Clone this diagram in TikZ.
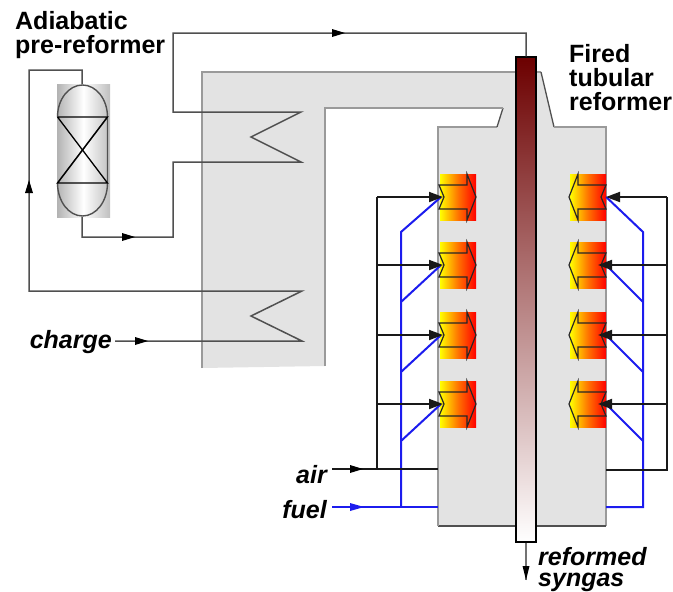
\documentclass[tikz,border=0pt]{standalone}
\usepackage{fontspec}
\setmainfont{Liberation Sans}
\usetikzlibrary{arrows.meta}
\definecolor{furn}{HTML}{E3E3E3}
\definecolor{furnedge}{HTML}{9A9A9A}
\definecolor{pipec}{HTML}{505050}
\definecolor{tubetop}{HTML}{6C0000}
\definecolor{fuelblue}{HTML}{1C1CEE}
\tikzset{
  pipe/.style={draw=pipec,line width=1.5pt,line join=miter},
  airline/.style={draw=black!90,line width=1.8pt},
  fuelline/.style={draw=fuelblue,line width=2pt},
  bigtip/.style={-{Triangle[length=14pt,width=10pt]},line width=1.8pt,draw=black!90},
  burnerbox/.style={minimum width=36pt,minimum height=46pt,inner sep=0pt,left color=yellow,right color=red,middle color=orange!90!red},
  burnerarrow/.style={draw=black!85,line width=1.2pt,line join=miter},
  lbl/.style={font=\fontsize{25}{24}\selectfont\bfseries,inner sep=0pt,anchor=base west},
  ilbl/.style={font=\fontsize{25}{24}\selectfont\bfseries\itshape,inner sep=0pt},
  tubebox/.style={draw=black,line width=1.5pt,minimum width=20pt,minimum height=485pt,inner sep=0pt,top color=tubetop,bottom color=white},
  vesselbox/.style={minimum width=53pt,minimum height=133pt,inner sep=0pt,left color=black!30,right color=black!25,middle color=white},
}
\begin{document}
\begin{tikzpicture}[x=1pt,y=-1pt]
\useasboundingbox (0,0) rectangle (673,592);
% furnace body
\fill[furn] (202,72) -- (541,72) -- (554,127) -- (606,127) -- (606,526) -- (438,526) -- (438,127) -- (497,127) -- (503,108) -- (325,108) -- (325,366) -- (202,368) -- cycle;
\draw[furnedge,line width=1.8pt,line join=miter] (202,368) -- (202,72) -- (541,72);
\draw[pipec,line width=1.3pt] (541,72) -- (554,127);
\draw[furnedge,line width=1.8pt] (554,127) -- (606,127) -- (606,526);
\draw[pipec,line width=1.5pt] (606,526) -- (438,526);
\draw[furnedge,line width=1.8pt] (438,526) -- (438,127) -- (497,127);
\draw[pipec,line width=1.3pt] (497,127) -- (503,108);
\draw[furnedge,line width=1.8pt] (503,108) -- (325,108) -- (325,366);
% pre-reformer vessel
\node[vesselbox] (vessel) at (83.5,150.5) {};
\draw[pipec,line width=1.4pt] (57.5,117) arc[x radius=25,y radius=-32,start angle=180,end angle=0] (107.5,117) -- (107.5,183) arc[x radius=25,y radius=-33,start angle=0,end angle=-180] -- cycle;
\draw[black,line width=1.3pt] (57.5,117) -- (107.5,117) -- (57.5,183) -- (107.5,183) -- (57.5,117);
% named points of the process lines
\coordinate (vtop) at (82,84);
\coordinate (vbot) at (82,217);
\coordinate (c1) at (29,70);
\coordinate (c1a) at (82,70);
\coordinate (c2) at (29,291);
\coordinate (lowA) at (302,291);
\coordinate (lowB) at (251,316);
\coordinate (lowC) at (302,341);
\coordinate (chg) at (115,341);
\coordinate (b1) at (82,237);
\coordinate (b2) at (173,237);
\coordinate (b3) at (173,162);
\coordinate (upC) at (301,162);
\coordinate (upB) at (251,137);
\coordinate (upA) at (301,112);
\coordinate (t1) at (173,112);
\coordinate (t2) at (173,33);
\coordinate (t3) at (526,33);
\coordinate (prod) at (526,580);
\node[tubebox] (tube) at (526,299.5) {};
\draw[pipe] (vtop) -- (c1a) -- (c1) -- (c2) -- (lowA) -- (lowB) -- (lowC) -- (chg);
\draw[pipe] (vbot) -- (b1) -- (b2) -- (b3) -- (upC) -- (upB) -- (upA) -- (t1) -- (t2) -- (t3) -- (tube.north);
\fill[black] (29,180) -- (25,193) -- (33,193) -- cycle;
\fill[black] (135,237) -- (122,233) -- (122,241) -- cycle;
\fill[black] (345,33) -- (332,29) -- (332,37) -- cycle;
\fill[black] (148,341) -- (135,337) -- (135,345) -- cycle;
\draw[pipe,draw=black!55] (tube.south) -- (prod);
\fill[black] (prod) -- (522.5,566) -- (529.5,566) -- cycle;
% burners
\foreach \n/\yy in {1/197,2/265,3/335,4/404}{
  \node[burnerbox] (bl\n) at (458,\yy) {};
  \node[burnerbox] (br\n) at (588,\yy) {};
  \draw[burnerarrow] (439,\yy-12) -- (467,\yy-12) -- (467,\yy-23) -- (476,\yy) -- (467,\yy+23) -- (467,\yy+12) -- (439,\yy+12) -- (444,\yy) -- cycle;
  \draw[burnerarrow] (606,\yy-12) -- (578,\yy-12) -- (578,\yy-23) -- (569,\yy) -- (578,\yy+23) -- (578,\yy+12) -- (606,\yy+12) -- (601,\yy) -- cycle;
}
% air and fuel manifolds
\coordinate (airin) at (332,469);
\coordinate (airL) at (438,469);
\coordinate (airJ) at (377,469);
\coordinate (airT) at (377,197);
\coordinate (airR) at (606,470);
\coordinate (airRc) at (667,470);
\coordinate (airRt) at (667,197);
\coordinate (fuelin) at (332,507);
\coordinate (fuelL) at (438,507);
\coordinate (fuelJ) at (401,507);
\coordinate (fuelR) at (606,507);
\coordinate (fuelRc) at (643,507);
\draw[fuelline] (fuelin) -- (fuelL);
\draw[fuelline] (fuelR) -- (fuelRc) -- (643,232) -- (br1.east);
\draw[fuelline] (fuelJ) -- (401,232) -- (441,197);
\fill[fuelblue] (364,507) -- (350,503) -- (350,511) -- cycle;
\foreach \yy/\low in {265/302,335/372,404/441}{
  \draw[fuelline] (401,\low) -- (441,\yy);
  \draw[fuelline] (643,\low) -- (606,\yy);
}
\draw[airline] (airin) -- (airL);
\draw[airline] (airJ) -- (airT);
\draw[airline] (airR) -- (airRc) -- (airRt);
\fill[black] (363,469) -- (350,465) -- (350,473) -- cycle;
\foreach \yy in {197,265,335,404}{
  \draw[bigtip] (377,\yy) -- (443,\yy);
}
\draw[bigtip] (airRt) -- (606,197);
\foreach \yy in {265,335,404}{
  \draw[bigtip] (667,\yy) -- (598,\yy);
}
% labels
\node[lbl] (prelbl1) at (15,29) {Adiabatic};
\node[lbl] (prelbl2) at (15,53) {pre-reformer};
\node[lbl] (firlbl1) at (569,62) {Fired};
\node[lbl] (firlbl2) at (569,86) {tubular};
\node[lbl] (firlbl3) at (569,110) {reformer};
\node[ilbl,anchor=base east] (chglbl) at (112,348) {charge};
\node[ilbl,anchor=base east] (airlbl) at (327,483) {air};
\node[ilbl,anchor=base east] (fuellbl) at (327,518) {fuel};
\node[ilbl,anchor=base west] (reflbl) at (538,565) {reformed};
\node[ilbl,anchor=base west] (synlbl) at (538,586.5) {syngas};
\end{tikzpicture}
\end{document}
